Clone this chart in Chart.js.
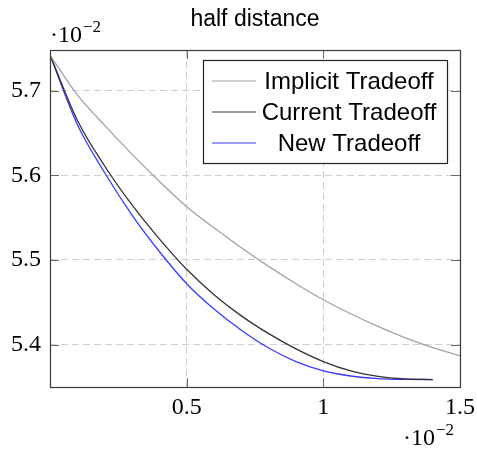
<!DOCTYPE html>
<html>
<head>
<meta charset="utf-8">
<script src="https://cdn.jsdelivr.net/npm/chart.js@4/dist/chart.umd.min.js"></script>
<style>
  html, body { margin: 0; padding: 0; background: #ffffff; }
  canvas { display: block; }
</style>
</head>
<body>
<canvas id="c" width="477" height="449"></canvas>
<script>
// ---- data (values in units of 10^-2) ----
const chartTitle = "half distance";
const seriesNames = ["Implicit Tradeoff", "Current Tradeoff", "New Tradeoff"];
const xImplicit = [0, 0.1, 0.2, 0.3, 0.4, 0.5, 0.6, 0.7, 0.8, 0.9, 1.0, 1.1, 1.2, 1.3, 1.4, 1.5];
const yImplicit = [5.742, 5.695, 5.659, 5.625, 5.593, 5.563, 5.538, 5.5145, 5.4925, 5.472, 5.453, 5.4365, 5.4215, 5.408, 5.3965, 5.387];
const xCurrent = [0, 0.1, 0.2, 0.3, 0.4, 0.5, 0.6, 0.7, 0.8, 0.9, 1.0, 1.1, 1.2, 1.3, 1.4];
const yCurrent = [5.742, 5.665, 5.611, 5.565, 5.525, 5.489, 5.459, 5.434, 5.413, 5.395, 5.380, 5.369, 5.3625, 5.3595, 5.3588];
const xNew = [0, 0.1, 0.2, 0.3, 0.4, 0.5, 0.6, 0.7, 0.8, 0.9, 1.0, 1.1, 1.2, 1.3, 1.4];
const yNew = [5.742, 5.660, 5.603, 5.553, 5.510, 5.472, 5.442, 5.417, 5.396, 5.380, 5.369, 5.363, 5.360, 5.359, 5.3588];
const xTicks = [0.5, 1, 1.5];
const yTicks = [5.4, 5.5, 5.6, 5.7];
const xRange = [0, 1.5];
const yRange = [5.35, 5.748];
const scaleLabel = ["\u00B710", "\u22122"];

const colors = ["#a3a3a3", "#333333", "#3b3bff"];
const pts = (xs, ys) => xs.map((x, i) => ({ x: x, y: ys[i] }));

const SANS = "'Liberation Sans', Arial, sans-serif";
const SERIF = "'Liberation Serif', 'Times New Roman', serif";

const decor = {
  id: 'decor',
  afterDraw(chart) {
    const ctx = chart.ctx;
    const a = chart.chartArea;
    const xs = chart.scales.x, ys = chart.scales.y;
    ctx.save();
    // tick marks inside the box
    ctx.strokeStyle = '#6a6a6a';
    ctx.lineWidth = 1;
    const tl = 9;
    xTicks.forEach(v => {
      const px = Math.round(xs.getPixelForValue(v)) + 0.5;
      ctx.beginPath();
      ctx.moveTo(px, a.bottom); ctx.lineTo(px, a.bottom - tl);
      ctx.moveTo(px, a.top); ctx.lineTo(px, a.top + tl);
      ctx.stroke();
    });
    yTicks.forEach(v => {
      const py = Math.round(ys.getPixelForValue(v)) + 0.5;
      ctx.beginPath();
      ctx.moveTo(a.left, py); ctx.lineTo(a.left + tl, py);
      ctx.moveTo(a.right, py); ctx.lineTo(a.right - tl, py);
      ctx.stroke();
    });
    // box
    ctx.strokeStyle = '#3a3a3a';
    ctx.lineWidth = 1.2;
    ctx.strokeRect(Math.round(a.left) + 0.5, Math.round(a.top) + 0.5,
                   Math.round(a.right - a.left), Math.round(a.bottom - a.top));
    // title
    ctx.fillStyle = '#000';
    ctx.font = "23px " + SANS;
    ctx.textAlign = 'center';
    ctx.textBaseline = 'alphabetic';
    ctx.fillText(chartTitle, (a.left + a.right) / 2, 26);
    // scale labels ·10^-2
    const drawExp = (x, y) => {
      ctx.textAlign = 'left';
      ctx.font = "24px " + SERIF;
      ctx.fillText(scaleLabel[0], x, y);
      const w = ctx.measureText(scaleLabel[0]).width;
      ctx.font = "17px " + SERIF;
      ctx.fillText(scaleLabel[1], x + w + 1, y - 10);
    };
    drawExp(a.left, 42);
    drawExp(403, 445);
    // legend
    const lx = 203, ly = 60, lw = 244, lh = 103;
    ctx.fillStyle = '#fff';
    ctx.fillRect(lx, ly, lw, lh);
    ctx.strokeStyle = '#222';
    ctx.lineWidth = 1.2;
    ctx.strokeRect(lx + 0.5, ly + 0.5, lw, lh);
    const rowsY = [81, 112, 143];
    ctx.font = "24px " + SANS;
    ctx.textAlign = 'center';
    ctx.textBaseline = 'middle';
    seriesNames.forEach((name, i) => {
      ctx.strokeStyle = colors[i];
      ctx.lineWidth = 1.2;
      ctx.beginPath();
      ctx.moveTo(212, rowsY[i]); ctx.lineTo(256, rowsY[i]);
      ctx.stroke();
      ctx.fillStyle = '#000';
      ctx.fillText(name, 349, rowsY[i] + 1);
    });
    ctx.restore();
  }
};

new Chart(document.getElementById('c'), {
  type: 'line',
  data: {
    datasets: [
      { label: seriesNames[0], data: pts(xImplicit, yImplicit), borderColor: colors[0] },
      { label: seriesNames[1], data: pts(xCurrent, yCurrent), borderColor: colors[1] },
      { label: seriesNames[2], data: pts(xNew, yNew), borderColor: colors[2] }
    ]
  },
  options: {
    responsive: false,
    animation: false,
    elements: {
      point: { radius: 0 },
      line: { borderWidth: 1.3, cubicInterpolationMode: 'monotone', fill: false }
    },
    layout: { padding: { top: 50, right: 17, bottom: 0, left: 0 } },
    plugins: { legend: { display: false }, title: { display: false }, tooltip: { enabled: false } },
    scales: {
      x: {
        type: 'linear',
        min: xRange[0], max: xRange[1],
        afterBuildTicks: s => { s.ticks = xTicks.map(v => ({ value: v })); },
        afterFit: s => { s.height = 62; s.paddingLeft = 0; s.paddingRight = 0; },
        grid: { color: '#cfcfcf', lineWidth: 1, drawTicks: false },
        border: { display: false, dash: [7, 4] },
        ticks: {
          padding: 6, color: '#000', maxRotation: 0, autoSkip: false,
          font: { family: SERIF, size: 24 },
          callback: v => String(v)
        }
      },
      y: {
        type: 'linear',
        min: yRange[0], max: yRange[1],
        afterBuildTicks: s => { s.ticks = yTicks.map(v => ({ value: v })); },
        afterFit: s => { s.width = 50; s.paddingTop = 0; s.paddingBottom = 0; },
        grid: { color: '#cfcfcf', lineWidth: 1, drawTicks: false },
        border: { display: false, dash: [7, 4] },
        ticks: {
          padding: 9, color: '#000', autoSkip: false,
          font: { family: SERIF, size: 24 },
          callback: v => String(v)
        }
      }
    }
  },
  plugins: [decor]
});
</script>
</body>
</html>
